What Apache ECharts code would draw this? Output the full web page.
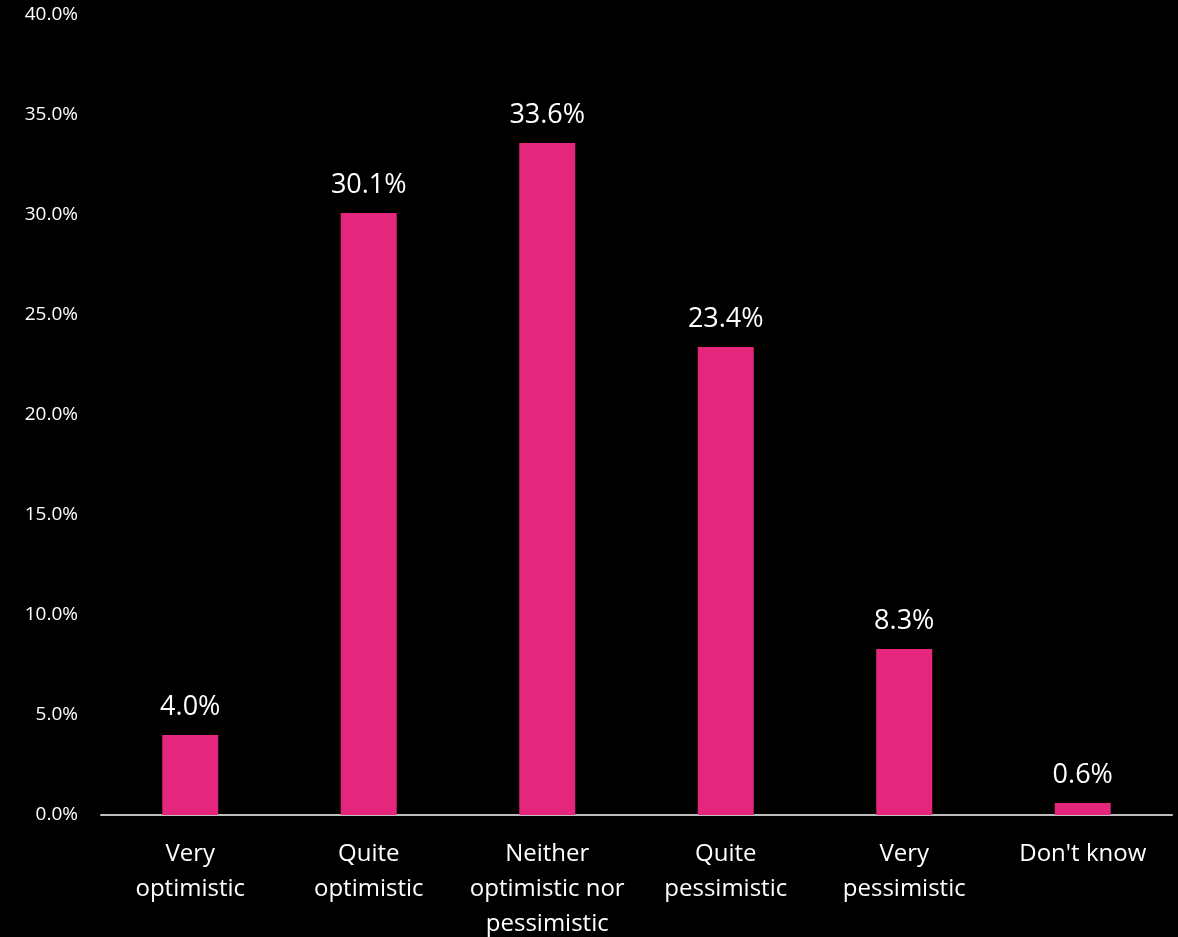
<!DOCTYPE html>
<html lang="en">
<head>
    <meta charset="UTF-8">
    <title>Optimism</title>
    <script src="https://cdn.jsdelivr.net/npm/echarts@6/dist/echarts.min.js"></script>
    <style>
        html, body { margin: 0; padding: 0; background: #000; }
        #paint { width: 1178px; height: 937px; }
    </style>
</head>
<body>
<div id="paint"></div>
<script type="text/javascript">
    var categories = ['Very\noptimistic', 'Quite\noptimistic', 'Neither\noptimistic nor\npessimistic', 'Quite\npessimistic', 'Very\npessimistic', "Don't know"];
    var values = [4.0, 30.1, 33.6, 23.4, 8.3, 0.6];

    var font = '"Open Sans", "Noto Sans", sans-serif';
    var myChart = echarts.init(document.getElementById('paint'));
    var option = {
        backgroundColor: '#000',
        animation: false,
        grid: { left: 101, right: 6, top: 15, bottom: 122, outerBoundsMode: 'none', containLabel: false },
        xAxis: {
            type: 'category',
            data: categories,
            axisLine: { lineStyle: { color: '#bfbfbf', width: 2 } },
            axisTick: { show: false },
            axisLabel: {
                color: '#fff', fontSize: 24, fontFamily: font,
                lineHeight: 35, margin: 22, interval: 0
            }
        },
        yAxis: {
            type: 'value',
            min: 0, max: 40, interval: 5,
            splitLine: { show: false },
            axisLine: { show: false },
            axisTick: { show: false },
            axisLabel: {
                color: '#fff', fontSize: 19, fontFamily: font, margin: 23,
                formatter: function (v) { return v.toFixed(1) + '%'; }
            }
        },
        series: [{
            type: 'bar',
            data: values,
            barWidth: 56,
            itemStyle: { color: '#e4267c' },
            label: {
                show: true, position: 'top', distance: 14,
                color: '#fff', fontSize: 27, fontFamily: font,
                formatter: function (p) { return p.value.toFixed(1) + '%'; }
            }
        }]
    };
    myChart.setOption(option);
</script>
</body>
</html>
